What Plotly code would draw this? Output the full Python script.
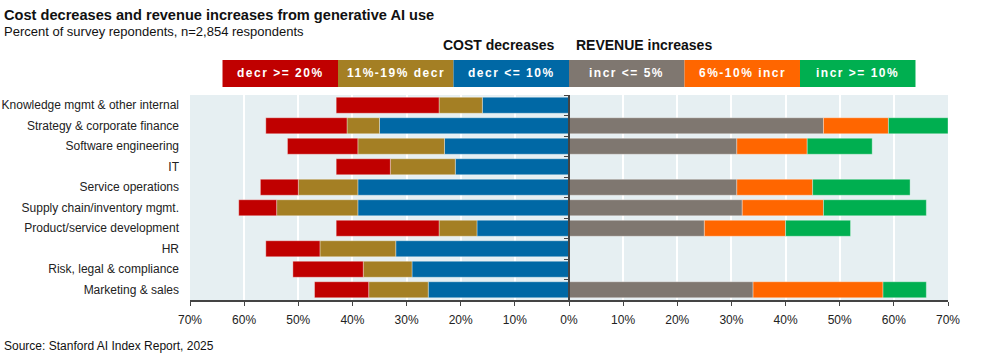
import plotly.graph_objects as go

categories = [
    "Knowledge mgmt & other internal",
    "Strategy & corporate finance",
    "Software engineering",
    "IT",
    "Service operations",
    "Supply chain/inventory mgmt.",
    "Product/service development",
    "HR",
    "Risk, legal & compliance",
    "Marketing & sales",
]

# Cost decreases (percent of respondents)
decr_le_10 = [16, 35, 23, 21, 39, 39, 17, 32, 29, 26]
decr_11_19 = [8, 6, 16, 12, 11, 15, 7, 14, 9, 11]
decr_ge_20 = [19, 15, 13, 10, 7, 7, 19, 10, 13, 10]

# Revenue increases (percent of respondents); None = not reported
incr_le_5 = [None, 47, 31, None, 31, 32, 25, None, None, 34]
incr_6_10 = [None, 12, 13, None, 14, 15, 15, None, None, 24]
incr_ge_10 = [None, 11, 12, None, 18, 19, 12, None, None, 8]

tick_vals = [-70, -60, -50, -40, -30, -20, -10, 0, 10, 20, 30, 40, 50, 60, 70]
tick_text = ["70%", "60%", "50%", "40%", "30%", "20%", "10%", "0%",
             "10%", "20%", "30%", "40%", "50%", "60%", "70%"]

legend_labels = ["decr >= 20%", "11%-19% decr", "decr <= 10%",
                 "incr <= 5%", "6%-10% incr", "incr >= 10%"]

C_RED = "#C00000"
C_GOLD = "#A47F24"
C_BLUE = "#0068A5"
C_GRAY = "#7F7770"
C_ORANGE = "#FF6600"
C_GREEN = "#00AF50"
legend_colors = [C_RED, C_GOLD, C_BLUE, C_GRAY, C_ORANGE, C_GREEN]

FONT = "Liberation Sans, Arial, sans-serif"
edge = dict(color="rgba(255,255,255,0.35)", width=1)

fig = go.Figure()

for vals, col, name in [(decr_le_10, C_BLUE, "decr <= 10%"),
                        (decr_11_19, C_GOLD, "11%-19% decr"),
                        (decr_ge_20, C_RED, "decr >= 20%")]:
    fig.add_trace(go.Bar(
        y=categories, x=[-v for v in vals], orientation="h",
        marker=dict(color=col, line=edge), name=name,
        xaxis="x", yaxis="y", showlegend=False,
        hovertemplate="%{y}: %{customdata}%<extra>" + name + "</extra>",
        customdata=vals,
    ))

for vals, col, name in [(incr_le_5, C_GRAY, "incr <= 5%"),
                        (incr_6_10, C_ORANGE, "6%-10% incr"),
                        (incr_ge_10, C_GREEN, "incr >= 10%")]:
    fig.add_trace(go.Bar(
        y=categories, x=vals, orientation="h",
        marker=dict(color=col, line=edge), name=name,
        xaxis="x", yaxis="y2", showlegend=False,
        hovertemplate="%{y}: %{x}%<extra>" + name + "</extra>",
    ))

shapes = []
annotations = []
box_w = 0.15237
x0 = 0.5 - 3 * box_w
for i, (lab, col) in enumerate(zip(legend_labels, legend_colors)):
    xa = x0 + i * box_w
    shapes.append(dict(type="rect", xref="paper", yref="paper",
                       x0=xa, x1=xa + box_w, y0=1.039, y1=1.171,
                       fillcolor=col, line=dict(width=0), layer="above"))
    annotations.append(dict(xref="paper", yref="paper", x=xa + box_w / 2,
                            y=1.105,
                            text='<span style="letter-spacing:1.5px"><b>' + lab + "</b></span>",
                            showarrow=False, xanchor="center", yanchor="middle",
                            font=dict(color="white", size=12, family=FONT)))

annotations += [
    dict(xref="paper", yref="paper", x=0.483, y=1.244, text="<b>COST decreases</b>",
         showarrow=False, xanchor="right", yanchor="middle",
         font=dict(size=14, color="#111", family=FONT)),
    dict(xref="paper", yref="paper", x=0.506, y=1.244, text="<b>REVENUE increases</b>",
         showarrow=False, xanchor="left", yanchor="middle",
         font=dict(size=14, color="#111", family=FONT)),
    dict(xref="paper", yref="paper", x=-0.248, y=1.390,
         text="<b>Cost decreases and revenue increases from generative AI use</b>",
         showarrow=False, xanchor="left", yanchor="middle",
         font=dict(size=14.6, color="#111", family=FONT)),
    dict(xref="paper", yref="paper", x=-0.248, y=1.309,
         text="Percent of survey repondents, n=2,854 respondents",
         showarrow=False, xanchor="left", yanchor="middle",
         font=dict(size=13, color="#111", family=FONT)),
    dict(xref="paper", yref="paper", x=-0.248, y=-0.225,
         text="Source: Stanford AI Index Report, 2025",
         showarrow=False, xanchor="left", yanchor="middle",
         font=dict(size=12, color="#111", family=FONT)),
]

fig.update_layout(
    width=982, height=359,
    margin=dict(l=190, r=34, t=95, b=59, autoexpand=False),
    barmode="relative", bargap=0.22,
    plot_bgcolor="#E6EFF2", paper_bgcolor="white",
    font=dict(family=FONT, size=12, color="#222"),
    shapes=shapes, annotations=annotations,
    xaxis=dict(range=[-70, 70], tickvals=tick_vals, ticktext=tick_text,
               showgrid=True, gridcolor="white", gridwidth=1.5,
               zeroline=False, showline=True, linecolor="#444", linewidth=1.5,
               ticks="outside", ticklen=4, tickcolor="#444",
               ticklabelstandoff=4,
               tickfont=dict(size=12, color="#222"), automargin=False),
    yaxis=dict(categoryorder="array", categoryarray=categories,
               autorange=False, range=[9.5, -0.5],
               showgrid=False, zeroline=False, showline=False,
               ticks="", ticklabelstandoff=10, automargin=False,
               tickfont=dict(size=12, color="#222")),
    yaxis2=dict(categoryorder="array", categoryarray=categories,
                autorange=False, range=[9.5, -0.5],
                overlaying="y", anchor="free", position=0.5, side="left",
                showgrid=False, zeroline=False, showline=True,
                linecolor="#444", linewidth=1.5, automargin=False,
                ticks="outside", tickson="boundaries", ticklen=4,
                tickcolor="#444", showticklabels=False),
)

fig.write_html("out.html", config={"displayModeBar": False},
               post_script="document.body.style.margin='0';document.body.style.overflow='hidden';")
